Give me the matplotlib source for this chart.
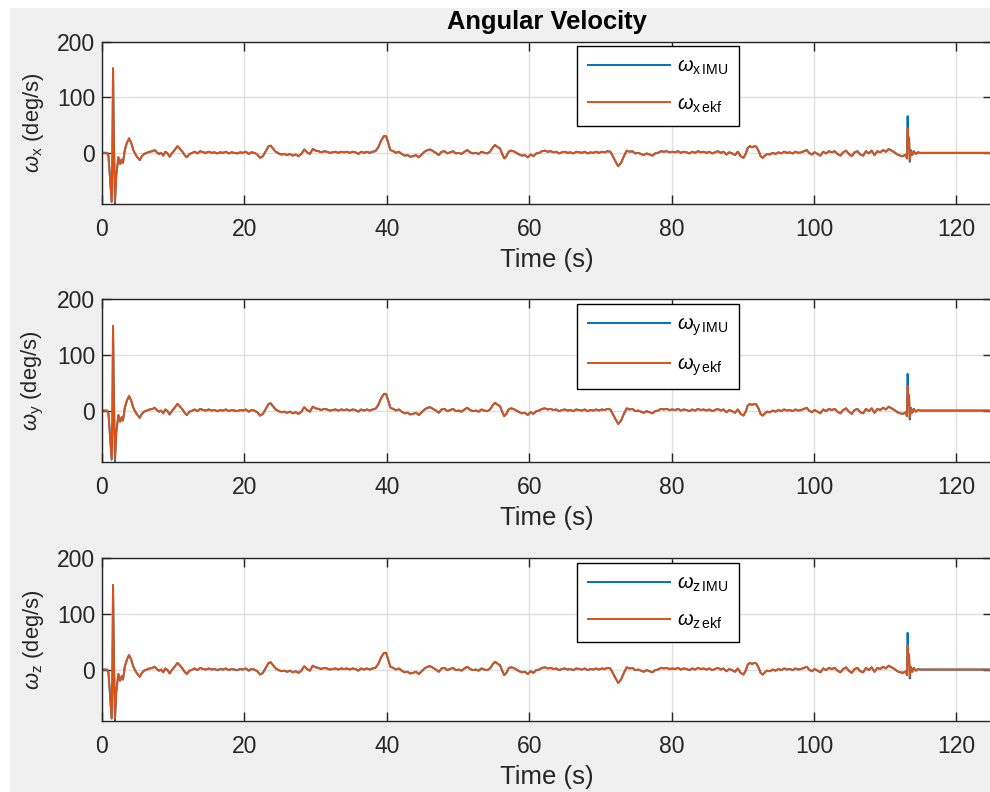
import numpy as np
import matplotlib
matplotlib.use('Agg')
import matplotlib.pyplot as plt
from matplotlib.patches import Rectangle

plt.rcParams['font.family'] = ['Liberation Sans', 'DejaVu Sans']
plt.rcParams['mathtext.fontset'] = 'custom'
plt.rcParams['mathtext.rm'] = 'Liberation Sans'
plt.rcParams['mathtext.it'] = 'Liberation Sans:italic'

# time stamps (s) and angular rate (deg/s), same log for all three plots
t = [0.0, 0.7, 0.9, 1.1, 1.35, 1.45, 1.55, 1.65, 1.82, 2.0, 2.3, 2.55, 2.75, 2.95,
     3.2, 3.5, 3.8, 4.1, 4.4, 4.8, 5.3, 5.6, 5.9, 6.3, 6.7, 7.1, 7.4, 7.7, 8.0,
     8.3, 8.6, 8.9, 9.2, 9.5, 9.8, 10.2, 10.6, 10.9, 11.3, 11.6, 11.9, 12.3, 12.7,
     13.0, 13.4, 13.8, 14.2, 14.6, 15.0, 15.4, 15.8, 16.2, 16.6, 17.0, 17.4, 17.8,
     18.2, 18.6, 19.0, 19.4, 19.8, 20.2, 20.6, 21.0, 21.4, 21.8, 22.2, 22.6, 23.0,
     23.4, 23.7, 24.0, 24.4, 24.8, 25.2, 25.6, 26.0, 26.4, 26.8, 27.2, 27.6, 28.0,
     28.4, 28.8, 29.2, 29.6, 30.0, 30.4, 30.8, 31.2, 31.6, 32.0, 32.4, 32.8, 33.2,
     33.6, 34.0, 34.4, 34.8, 35.2, 35.6, 36.0, 36.4, 36.8, 37.2, 37.6, 38.0, 38.4,
     38.8, 39.2, 39.6, 39.9, 40.2, 40.5, 40.9, 41.3, 41.7, 42.1, 42.5, 42.9, 43.3,
     43.7, 44.1, 44.5, 44.9, 45.3, 45.7, 46.1, 46.5, 46.9, 47.3, 47.7, 48.1, 48.5,
     48.9, 49.3, 49.7, 50.1, 50.5, 50.9, 51.3, 51.7, 52.1, 52.5, 52.9, 53.3, 53.7,
     54.1, 54.5, 54.9, 55.2, 55.6, 55.9, 56.2, 56.5, 56.8, 57.1, 57.4, 57.8, 58.2,
     58.6, 59.0, 59.4, 59.8, 60.2, 60.6, 61.0, 61.4, 61.8, 62.2, 62.6, 63.0, 63.4,
     63.8, 64.2, 64.6, 65.0, 65.4, 65.8, 66.2, 66.6, 67.0, 67.4, 67.8, 68.2, 68.6,
     69.0, 69.4, 69.8, 70.2, 70.6, 71.0, 71.4, 71.7, 72.1, 72.5, 72.9, 73.3, 73.7,
     74.1, 74.5, 74.9, 75.3, 75.7, 76.1, 76.5, 76.9, 77.3, 77.7, 78.1, 78.5, 78.9,
     79.3, 79.7, 80.1, 80.5, 80.9, 81.3, 81.7, 82.1, 82.5, 82.9, 83.3, 83.7, 84.1,
     84.5, 84.9, 85.3, 85.7, 86.1, 86.5, 86.9, 87.3, 87.7, 88.1, 88.5, 88.9, 89.3,
     89.7, 90.1, 90.4, 90.7, 91.0, 91.3, 91.6, 91.9, 92.2, 92.5, 92.8, 93.1, 93.4,
     93.8, 94.2, 94.6, 95.0, 95.4, 95.8, 96.2, 96.6, 97.0, 97.4, 97.8, 98.2, 98.6,
     99.0, 99.3, 99.7, 100.1, 100.5, 100.9, 101.3, 101.7, 102.1, 102.5, 102.9,
     103.3, 103.7, 104.1, 104.5, 104.9, 105.3, 105.7, 106.1, 106.5, 106.9, 107.3,
     107.7, 108.1, 108.5, 108.9, 109.3, 109.7, 110.1, 110.5, 110.9, 111.3, 111.7,
     112.1, 112.5, 112.9, 113.05, 113.15, 113.25, 113.35, 113.45, 113.6, 113.8,
     114.0, 114.3, 114.6, 114.9, 115.5, 125.0]

w_ekf = [0, 0, -5, -40, -88, -20, 152, 40, -88, -40, -8, -20, -12, -18,
         5, 18, 26, 18, 5, -5, -13, -6, -2, 0, 2, 3, 5, 1, -2,
         0, -5, 2, -1, -7, -1, 5, 12, 8, 2, -4, -8, -2, 0,
         2, -1, 3, 1, 0, 2, 0, 1, -1, 1, 0, 2, -1,
         1, 0, -1, 1, 0, 2, -2, 1, 0, -3, -9, -6, 3,
         12, 13, 8, 2, -1, -3, -2, -4, -2, -5, -3, -6, -2,
         6, 1, -2, 7, 4, 3, 1, 3, 2, 0, 1, 2, 0,
         2, 1, 2, 0, 2, 1, -2, 2, 0, 2, 0, 2, 3,
         10, 22, 30, 30, 18, 5, 3, 0, 2, -2, -5, -4, -7,
         -6, -4, -8, -3, 2, 5, 6, 3, 0, -4, 2, 3, -1,
         1, 3, -1, 0, -2, 2, 5, 1, -1, 0, -2, 2, 0,
         -1, 2, 10, 14, 10, 8, -2, -10, -6, 2, 4, 3, 0,
         -3, -5, -4, -8, -3, -6, -1, 0, 3, 4, 2, 3, 1,
         2, -1, 1, 2, 0, 1, -1, 2, 1, 0, 2, -1, 1,
         0, 2, 0, 2, 1, 3, 2, -5, -15, -24, -18, -6, 4,
         2, 3, -1, 0, -2, -4, -1, -3, -5, -1, 0, 3, 2,
         3, 1, 2, 1, 3, 0, 2, 1, -1, 2, 0, 3, 1,
         2, 0, 2, -1, 1, 3, 0, 2, -3, 1, -1, -4, 2,
         -6, -9, -2, 9, 12, 10, 12, 11, 4, -6, -9, -5, -2,
         -3, 0, -2, 1, -1, 2, 0, 1, -1, 2, 0, 1, 3,
         5, 0, -3, 1, -2, -5, 2, -1, 3, 1, 3,
         -2, -5, 1, 4, -2, -6, 1, 3, -3, -5, 3,
         -1, 4, -4, 3, 1, 5, 2, 7, 4, 1, -3,
         -5, -6, -3, -10, 44, 10, 28, -13, 5, -4,
         3, -2, 1, 0, 0, 0]

# gyro reading follows the filter except around the two spikes
w_imu = list(w_ekf)
w_imu[8] = -92
w_imu[t.index(113.15)] = 66
w_imu[t.index(113.35)] = 25
w_imu[t.index(113.45)] = -16

axes_names = ['x', 'y', 'z']
xticks = [0, 20, 40, 60, 80, 100, 120]
yticks = [0, 100, 200]

blue = '#0072BD'
orange = '#D95319'
dark = '#262626'

fig = plt.figure(figsize=(9.9, 7.92), dpi=100, facecolor='white')
fig.patches.append(Rectangle((10 / 990, 0), 1, 1 - 8 / 792, transform=fig.transFigure,
                             facecolor='#F0F0F0', edgecolor='none', zorder=-10))

bottoms = [0.7424, 0.4170, 0.0900]
for i, name in enumerate(axes_names):
    ax = fig.add_axes([102 / 990, bottoms[i], 890 / 990, 162.4 / 792])
    ax.set_facecolor('white')
    ax.plot(t, w_imu, color=blue, lw=1.4, label=r'$\omega_{\mathregular{%s\,IMU}}$' % name)
    ax.plot(t, w_ekf, color=orange, lw=1.4, label=r'$\omega_{\mathregular{%s\,ekf}}$' % name)
    ax.set_xlim(0, 125)
    ax.set_ylim(-92, 200)
    ax.set_xticks(xticks)
    ax.set_yticks(yticks)
    ax.grid(True, color='#DFDFDF', lw=1.0)
    ax.set_axisbelow(True)
    ax.tick_params(direction='in', length=6.5, width=1.0, top=True, right=True,
                   labelsize=16.5, colors=dark)
    ax.tick_params(axis='x', pad=10)
    ax.tick_params(axis='y', pad=5)
    for sp in ax.spines.values():
        sp.set_color(dark)
        sp.set_linewidth(1.0)
    ax.set_xlabel('Time (s)', fontsize=18.5, color=dark, labelpad=5)
    ax.set_ylabel(r'$\omega_{\mathregular{%s}}$ (deg/s)' % name, fontsize=15.8,
                  color=dark, labelpad=8)
    leg = ax.legend(loc='upper left', bbox_to_anchor=(0.534, 0.973), fontsize=14.4,
                    handlelength=4.1, handletextpad=0.35, labelspacing=0.85,
                    borderpad=0.55, borderaxespad=0, fancybox=False, framealpha=1,
                    edgecolor='black')
    leg.get_frame().set_linewidth(1.0)
    if i == 0:
        ax.set_title('Angular Velocity', fontsize=18.4, fontweight='bold', pad=9)

fig.savefig('out.png', dpi=100, facecolor=fig.get_facecolor())
